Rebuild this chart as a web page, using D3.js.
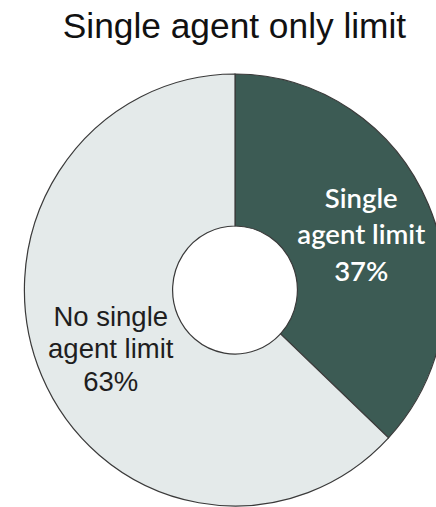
<!DOCTYPE html>
<meta charset="utf-8">
<script src="https://d3js.org/d3.v7.min.js"></script>
<style>
  body { margin: 0; background: #fff; }
  svg { display: block; }
</style>
<body>
<div id="viz"></div>
<script>
// chart data
const categories = ["Single agent limit", "No single agent limit"];
const values = [37, 63];
const labelLines = [["Single", "agent limit", "37%"], ["No single", "agent limit", "63%"]];
const colors = ["#3c5b54", "#e4eaea"];
const textColors = ["#ffffff", "#1e1e1e"];

const width = 436, height = 507;
const cx = 235, cy = 290;
const outerR = 216, innerR = 64;
const squeeze = 0.975; // the donut is a touch narrower than tall

const svg = d3.select("#viz")
  .append("svg")
    .attr("width", width)
    .attr("height", height);

// title
svg.append("text")
  .attr("x", 234.5)
  .attr("y", 38)
  .attr("text-anchor", "middle")
  .style("font-family", "'Liberation Sans', Arial, sans-serif")
  .style("font-size", "35.3px")
  .style("fill", "#111")
  .text("Single agent only limit");

const data = categories.map((c, i) => ({ name: c, value: values[i], lines: labelLines[i], i: i }));

const pie = d3.pie().sort(null).value(d => d.value);
const arc = d3.arc().innerRadius(innerR).outerRadius(outerR);

const g = svg.append("g")
  .attr("transform", `translate(${cx},${cy})`);

const arcs = pie(data);

g.append("g")
  .attr("transform", `scale(${squeeze},1)`)
  .selectAll("path")
  .data(arcs)
  .join("path")
    .attr("d", arc)
    .attr("fill", d => colors[d.data.i])
    .attr("stroke", "#3a3a3a")
    .attr("stroke-width", 1.2)
    .attr("vector-effect", "non-scaling-stroke");

// labels at the slice centroids
const lineH = [36.5, 32.5];
const fonts = ["Lato, 'Open Sans', sans-serif", "'Liberation Sans', Arial, sans-serif"];
const sizes = [27.5, 27.5];
const weights = [600, 400];
const shiftY = [0, 3];

arcs.forEach(function(d) {
  const i = d.data.i;
  const c = arc.centroid(d);
  const t = g.append("text")
    .attr("text-anchor", "middle")
    .style("font-family", fonts[i])
    .style("font-size", sizes[i] + "px")
    .style("font-weight", weights[i])
    .style("fill", textColors[i]);
  const n = d.data.lines.length;
  d.data.lines.forEach(function(line, k) {
    t.append("tspan")
      .attr("x", c[0] * squeeze + 1)
      .attr("y", c[1] + shiftY[i] + (k - (n - 1) / 2) * lineH[i] + sizes[i] * 0.35)
      .text(line);
  });
});
</script>
</body>
